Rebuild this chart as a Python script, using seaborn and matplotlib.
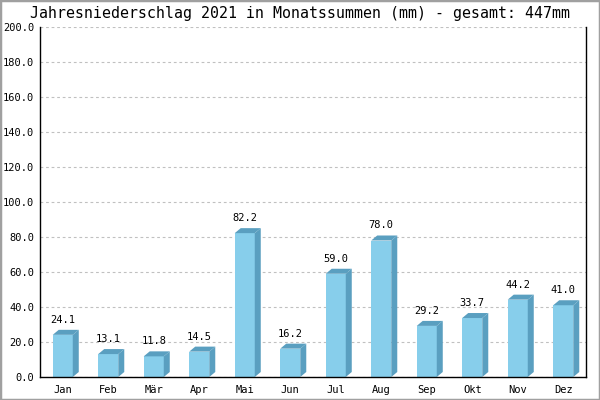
import matplotlib
matplotlib.use("Agg")
import matplotlib.pyplot as plt
from matplotlib.patches import Polygon, Rectangle
import seaborn as sns

# Monthly precipitation 2021 (mm)
months = ["Jan", "Feb", "Mär", "Apr", "Mai", "Jun",
          "Jul", "Aug", "Sep", "Okt", "Nov", "Dez"]
rain = [24.1, 13.1, 11.8, 14.5, 82.2, 16.2, 59.0, 78.0, 29.2, 33.7, 44.2, 41.0]
yticks = [0, 20, 40, 60, 80, 100, 120, 140, 160, 180, 200]

front = "#87CEEB"
shade = "#5A9FC0"

sns.set_style("white")
plt.rcParams["font.family"] = ["DejaVu Sans Mono", "DejaVu Sans"]

fig = plt.figure(figsize=(6, 4), dpi=100)
ax = fig.add_axes([40 / 600, 23 / 400, 546 / 600, 350 / 400])

sns.barplot(x=months, y=rain, color=front, saturation=1, width=0.44,
            ax=ax, zorder=2, edgecolor="none")

ax.set_xlim(-0.5, len(months) - 0.5)
ax.set_ylim(0, 200)
ax.set_yticks(yticks)
ax.set_yticklabels([f"{t:.1f}" for t in yticks])
ax.tick_params(axis="both", length=0, labelsize=7.5, colors="black")
ax.tick_params(axis="y", pad=4)
ax.tick_params(axis="x", pad=6)
ax.yaxis.grid(True, color="#c0c0c0", linestyle=(0, (2.5, 2.5)), linewidth=0.8)
ax.xaxis.grid(False)
ax.set_axisbelow(True)
for s in ["left", "bottom", "right"]:
    ax.spines[s].set_visible(True)
    ax.spines[s].set_color("black")
    ax.spines[s].set_linewidth(1.0)
ax.spines["top"].set_visible(False)

# 3D depth: 6 px right, 5 px up, converted into data units
inv = ax.transData.inverted()
p0 = inv.transform((0, 0))
p1 = inv.transform((6, 5))
ddx, ddy = p1[0] - p0[0], p1[1] - p0[1]

for bar, v in zip(ax.patches, rain):
    x0 = bar.get_x()
    x1 = x0 + bar.get_width()
    h = bar.get_height()
    top = Polygon([(x0, h), (x0 + ddx, h + ddy), (x1 + ddx, h + ddy), (x1, h)],
                  closed=True, facecolor=shade, edgecolor="none", zorder=2)
    side = Polygon([(x1, 0), (x1 + ddx, ddy), (x1 + ddx, h + ddy), (x1, h)],
                   closed=True, facecolor=shade, edgecolor="none", zorder=2)
    ax.add_patch(top)
    ax.add_patch(side)
    ax.annotate(f"{v:.1f}", xy=(x0 + bar.get_width() / 2, h), xytext=(0, 12),
                textcoords="offset pixels", ha="center", va="baseline",
                fontsize=7.5, color="black")

fig.text(0.5, 382 / 400, "Jahresniederschlag 2021 in Monatssummen (mm) - gesamt: 447mm",
         ha="center", va="baseline", fontsize=10.7, color="black")

fig.patches.append(Rectangle((0, 0), 1, 1, transform=fig.transFigure, fill=False,
                             edgecolor="#a0a0a0", linewidth=2.5))

fig.savefig("out.png", dpi=100)
